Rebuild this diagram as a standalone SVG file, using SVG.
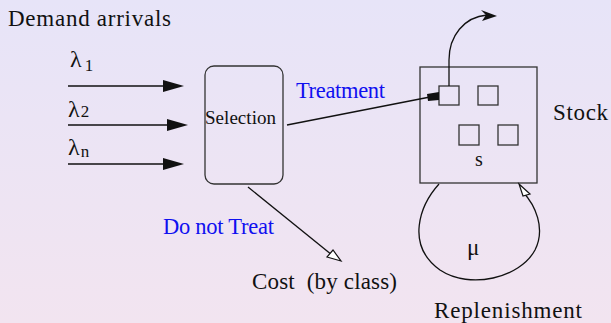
<svg xmlns="http://www.w3.org/2000/svg" width="611" height="323" viewBox="0 0 611 323">
<defs>
<linearGradient id="bg" x1="0" y1="0" x2="0" y2="1">
<stop offset="0" stop-color="#E7E4F8"/>
<stop offset="1" stop-color="#F2E4F0"/>
</linearGradient>
</defs>
<style>
text{fill:#111;font-family:'Liberation Serif',serif;}
.blue{fill:#1010F0;}
.ln{stroke:#111;stroke-width:1.3;fill:none;}
.box{stroke:#333;stroke-width:1.3;fill:none;}
.fillh{fill:#111;stroke:none;}
.hollow{fill:#fff;stroke:#111;stroke-width:1.2;}
</style>
<rect x="0" y="0" width="611" height="323" fill="url(#bg)"/>

<g id="title"><text font-size="23" x="8" y="26" textLength="163" lengthAdjust="spacing">Demand arrivals</text></g>

<g id="arrivals">
<text x="70" y="67" font-size="24">λ<tspan font-size="17" dx="3" dy="4">1</tspan></text>
<text x="68" y="117" font-size="24">λ<tspan font-size="17" dx="1">2</tspan></text>
<text x="68" y="155" font-size="24">λ<tspan font-size="17" dx="1" dy="2">n</tspan></text>
</g>

<g id="selection">
<rect class="box" x="205" y="66" width="78" height="118" rx="9"/>
<text x="205" y="124" font-size="19" textLength="71" lengthAdjust="spacing">Selection</text>
</g>

<g id="stock">
<rect class="box" x="420" y="67" width="117" height="116"/>
<rect class="box" x="439" y="86" width="20" height="19"/>
<rect class="box" x="478" y="86" width="20" height="19"/>
<rect class="box" x="459" y="125" width="20" height="20"/>
<rect class="box" x="498" y="125" width="20" height="20"/>
<text x="479" y="166" font-size="20" text-anchor="middle">s</text>
<text font-size="23" x="553" y="120" textLength="55" lengthAdjust="spacing">Stock</text>
</g>

<g id="labels">
<text class="blue" font-size="22.5" x="296" y="98" textLength="89" lengthAdjust="spacing">Treatment</text>
<text class="blue" font-size="22.5" x="163" y="234" textLength="111" lengthAdjust="spacing">Do not Treat</text>
<text font-size="23" x="252" y="289" xml:space="preserve" textLength="145" lengthAdjust="spacing">Cost  (by class)</text>
<text font-size="23" x="434" y="318" textLength="148" lengthAdjust="spacing">Replenishment</text>
<text x="467" y="255" font-size="23">μ</text>
</g>

<g id="connectors">
<line class="ln" x1="68" y1="86" x2="166" y2="86"/>
<polygon class="fillh" points="184,86 163,80 163,92"/>
<line class="ln" x1="68" y1="125" x2="170" y2="125"/>
<polygon class="fillh" points="188,125 167,119 167,131"/>
<line class="ln" x1="68" y1="164" x2="166" y2="164"/>
<polygon class="fillh" points="184,164 163,158 163,170"/>

<line class="ln" x1="287" y1="125" x2="430" y2="97"/>
<polygon class="fillh" points="427,94 439,92 439,100 428,101"/>

<path class="ln" d="M449,86 L449,60 C449,36 464,17 487,15"/>
<polygon class="fillh" points="497,16 481,10 486,15 482,21"/>

<line class="ln" x1="248" y1="187" x2="332" y2="255"/>
<polygon class="hollow" points="341,261 327,257 333,250"/>

<path class="ln" d="M439,184 C420,205 405,245 440,270 C470,290 520,278 535,250 C546,228 535,205 523,192"/>
<polygon class="hollow" points="519,184 530,194 523,196"/>
</g>
</svg>
